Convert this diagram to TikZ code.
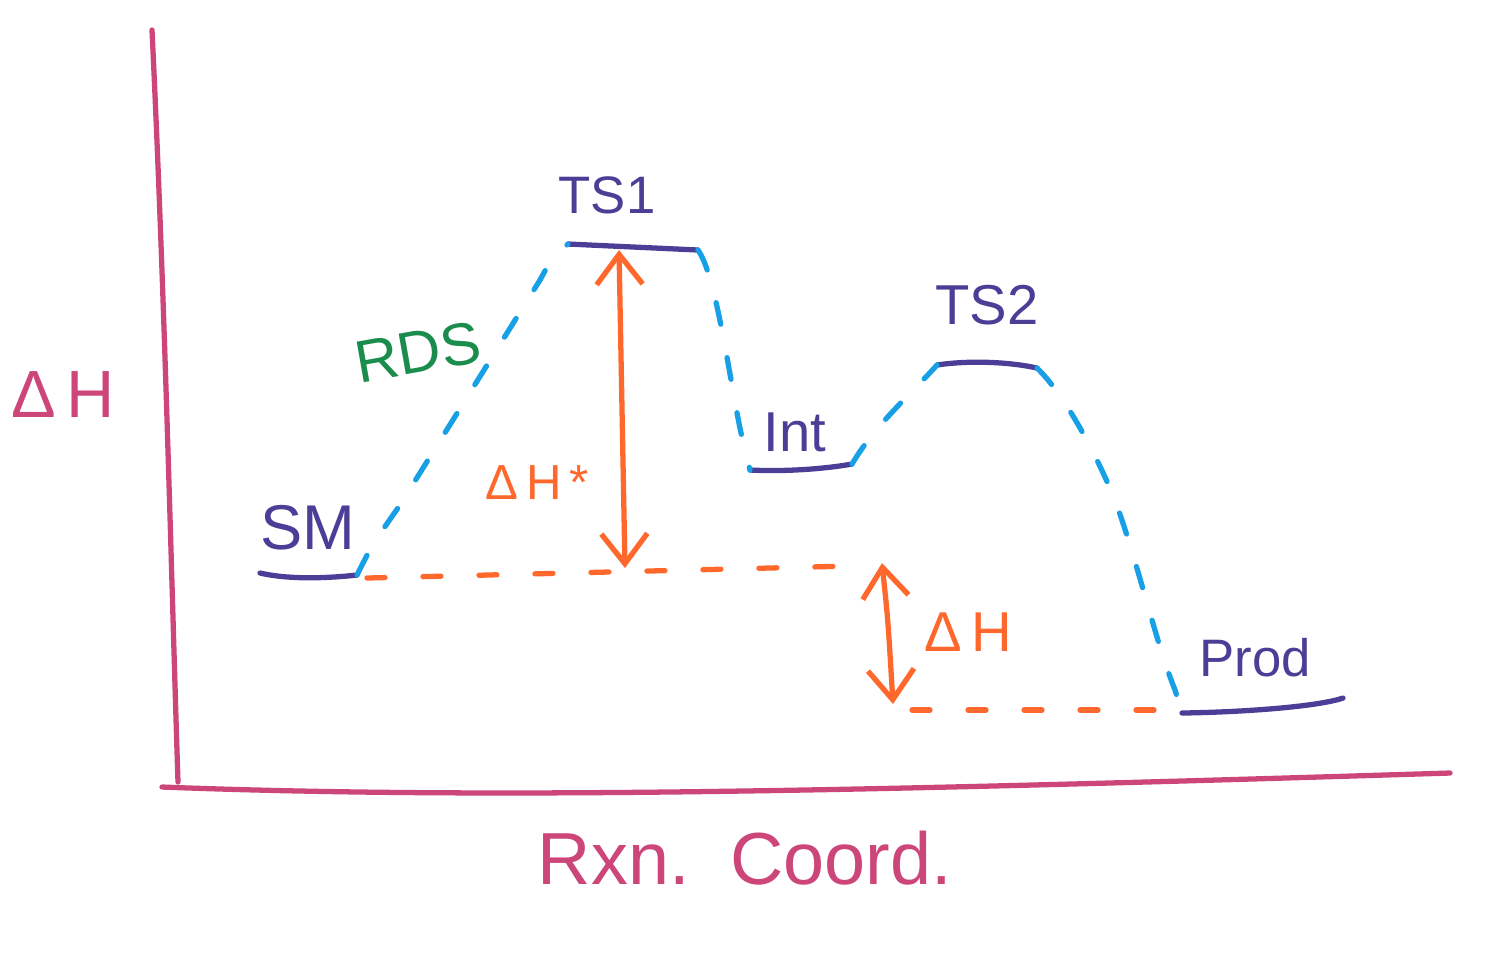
\documentclass[tikz,border=0pt]{standalone}
\usepackage{fontspec}
\setmainfont{Liberation Sans}
\usetikzlibrary{arrows.meta}
\definecolor{axispink}{RGB}{204,70,122}
\definecolor{levelpurple}{RGB}{74,62,150}
\definecolor{pathblue}{RGB}{24,160,230}
\definecolor{arrorange}{RGB}{255,104,44}
\definecolor{rdsgreen}{RGB}{26,140,76}
\newcommand{\fsz}[1]{\fontsize{#1}{#1}\selectfont}
\tikzset{
  axisline/.style={draw=axispink,line width=1.5pt,line cap=round},
  levelline/.style={draw=levelpurple,line width=1.5pt,line cap=round},
  pathline/.style={draw=pathblue,line width=1.5pt,line cap=round,dash pattern=on 2.2mm off 3.4mm},
  refline/.style={draw=arrorange,line width=1.5pt,line cap=round,dash pattern=on 1.8mm off 3.8mm},
  diffarrow/.style={draw=arrorange,line width=1.5pt,line cap=round,
    {Straight Barb[length=3mm,width=4.6mm,line width=1.5pt]}-{Straight Barb[length=3mm,width=4.6mm,line width=1.5pt]}},
  lvllabel/.style={text=levelpurple,inner sep=0pt},
  axlabel/.style={text=axispink,inner sep=0pt},
  orlabel/.style={text=arrorange,inner sep=0pt},
}
\begin{document}
\begin{tikzpicture}[x=0.1mm,y=-0.1mm]
\useasboundingbox (0,0) rectangle (1500,956);
% axes
\coordinate (ytop) at (152,30);
\coordinate (origin) at (178,782);
\coordinate (xstart) at (162,787);
\coordinate (xend) at (1450,773);
\draw[axisline] (ytop) .. controls (165,300) and (172,600) .. (origin);
\draw[axisline] (xstart) .. controls (500,800) and (900,790) .. (xend);
\node[axlabel,font=\fsz{19}] (ylab) at (63,395) {Δ\,H};
\node[axlabel,font=\fsz{21}] (xlab) at (745,858) {Rxn.\ \ Coord.};
% levels
\coordinate (sm1) at (260,573); \coordinate (sm2) at (357,575);
\coordinate (ts1a) at (568,244); \coordinate (ts1b) at (698,250);
\coordinate (int1) at (750,470); \coordinate (int2) at (852,464);
\coordinate (ts2a) at (937,365); \coordinate (ts2b) at (1037,368);
\coordinate (pr1) at (1182,713); \coordinate (pr2) at (1343,698);
\draw[levelline] (sm1) .. controls (290,580) and (330,578) .. (sm2);
\draw[levelline] (ts1a) -- (ts1b);
\draw[levelline] (int1) .. controls (790,472) and (830,468) .. (int2);
\draw[levelline] (ts2a) .. controls (970,360) and (1010,362) .. (ts2b);
\draw[levelline] (pr1) .. controls (1250,712) and (1320,706) .. (pr2);
\node[lvllabel,font=\fsz{18}] (smlab) at (308,528) {SM};
\node[lvllabel,font=\fsz{15}] (ts1lab) at (607,195) {TS1};
\node[lvllabel,font=\fsz{16}] (intlab) at (795,432) {Int};
\node[lvllabel,font=\fsz{16}] (ts2lab) at (987,305) {TS2};
\node[lvllabel,font=\fsz{15}] (prlab) at (1255,658) {Prod};
\node[text=rdsgreen,font=\fsz{17},inner sep=0pt,rotate=10] (rds) at (418,352) {RDS};
% reaction path
\draw[pathline] (sm2) .. controls (372,545) .. (400,505) -- (540,280) .. controls (552,258) .. (ts1a);
\draw[pathline] (ts1b) .. controls (712,270) and (722,330) .. (732,385) .. controls (740,430) .. (int1);
\draw[pathline] (int2) .. controls (875,425) and (910,395) .. (ts2a);
\draw[pathline] (ts2b) .. controls (1060,390) and (1090,440) .. (1115,500) .. controls (1140,570) and (1155,640) .. (1175,690) .. controls (1178,700) .. (pr1);
% reference lines
\coordinate (r1a) at (367,578); \coordinate (r1b) at (850,566);
\coordinate (r2a) at (912,710); \coordinate (r2b) at (1175,710);
\draw[refline] (r1a) -- (r1b);
\draw[refline] (r2a) -- (r2b);
% arrows
\coordinate (a1t) at (619,250); \coordinate (a1b) at (625,568);
\coordinate (a2t) at (882,563); \coordinate (a2b) at (893,704);
\draw[diffarrow] (a1t) -- (a1b);
\draw[diffarrow] (a2t) .. controls (888,620) .. (a2b);
\node[orlabel,font=\fsz{14}] (dhs) at (537,483) {Δ\,H\,*};
\node[orlabel,font=\fsz{16}] (dh) at (968,632) {Δ\,H};
\end{tikzpicture}
\end{document}
